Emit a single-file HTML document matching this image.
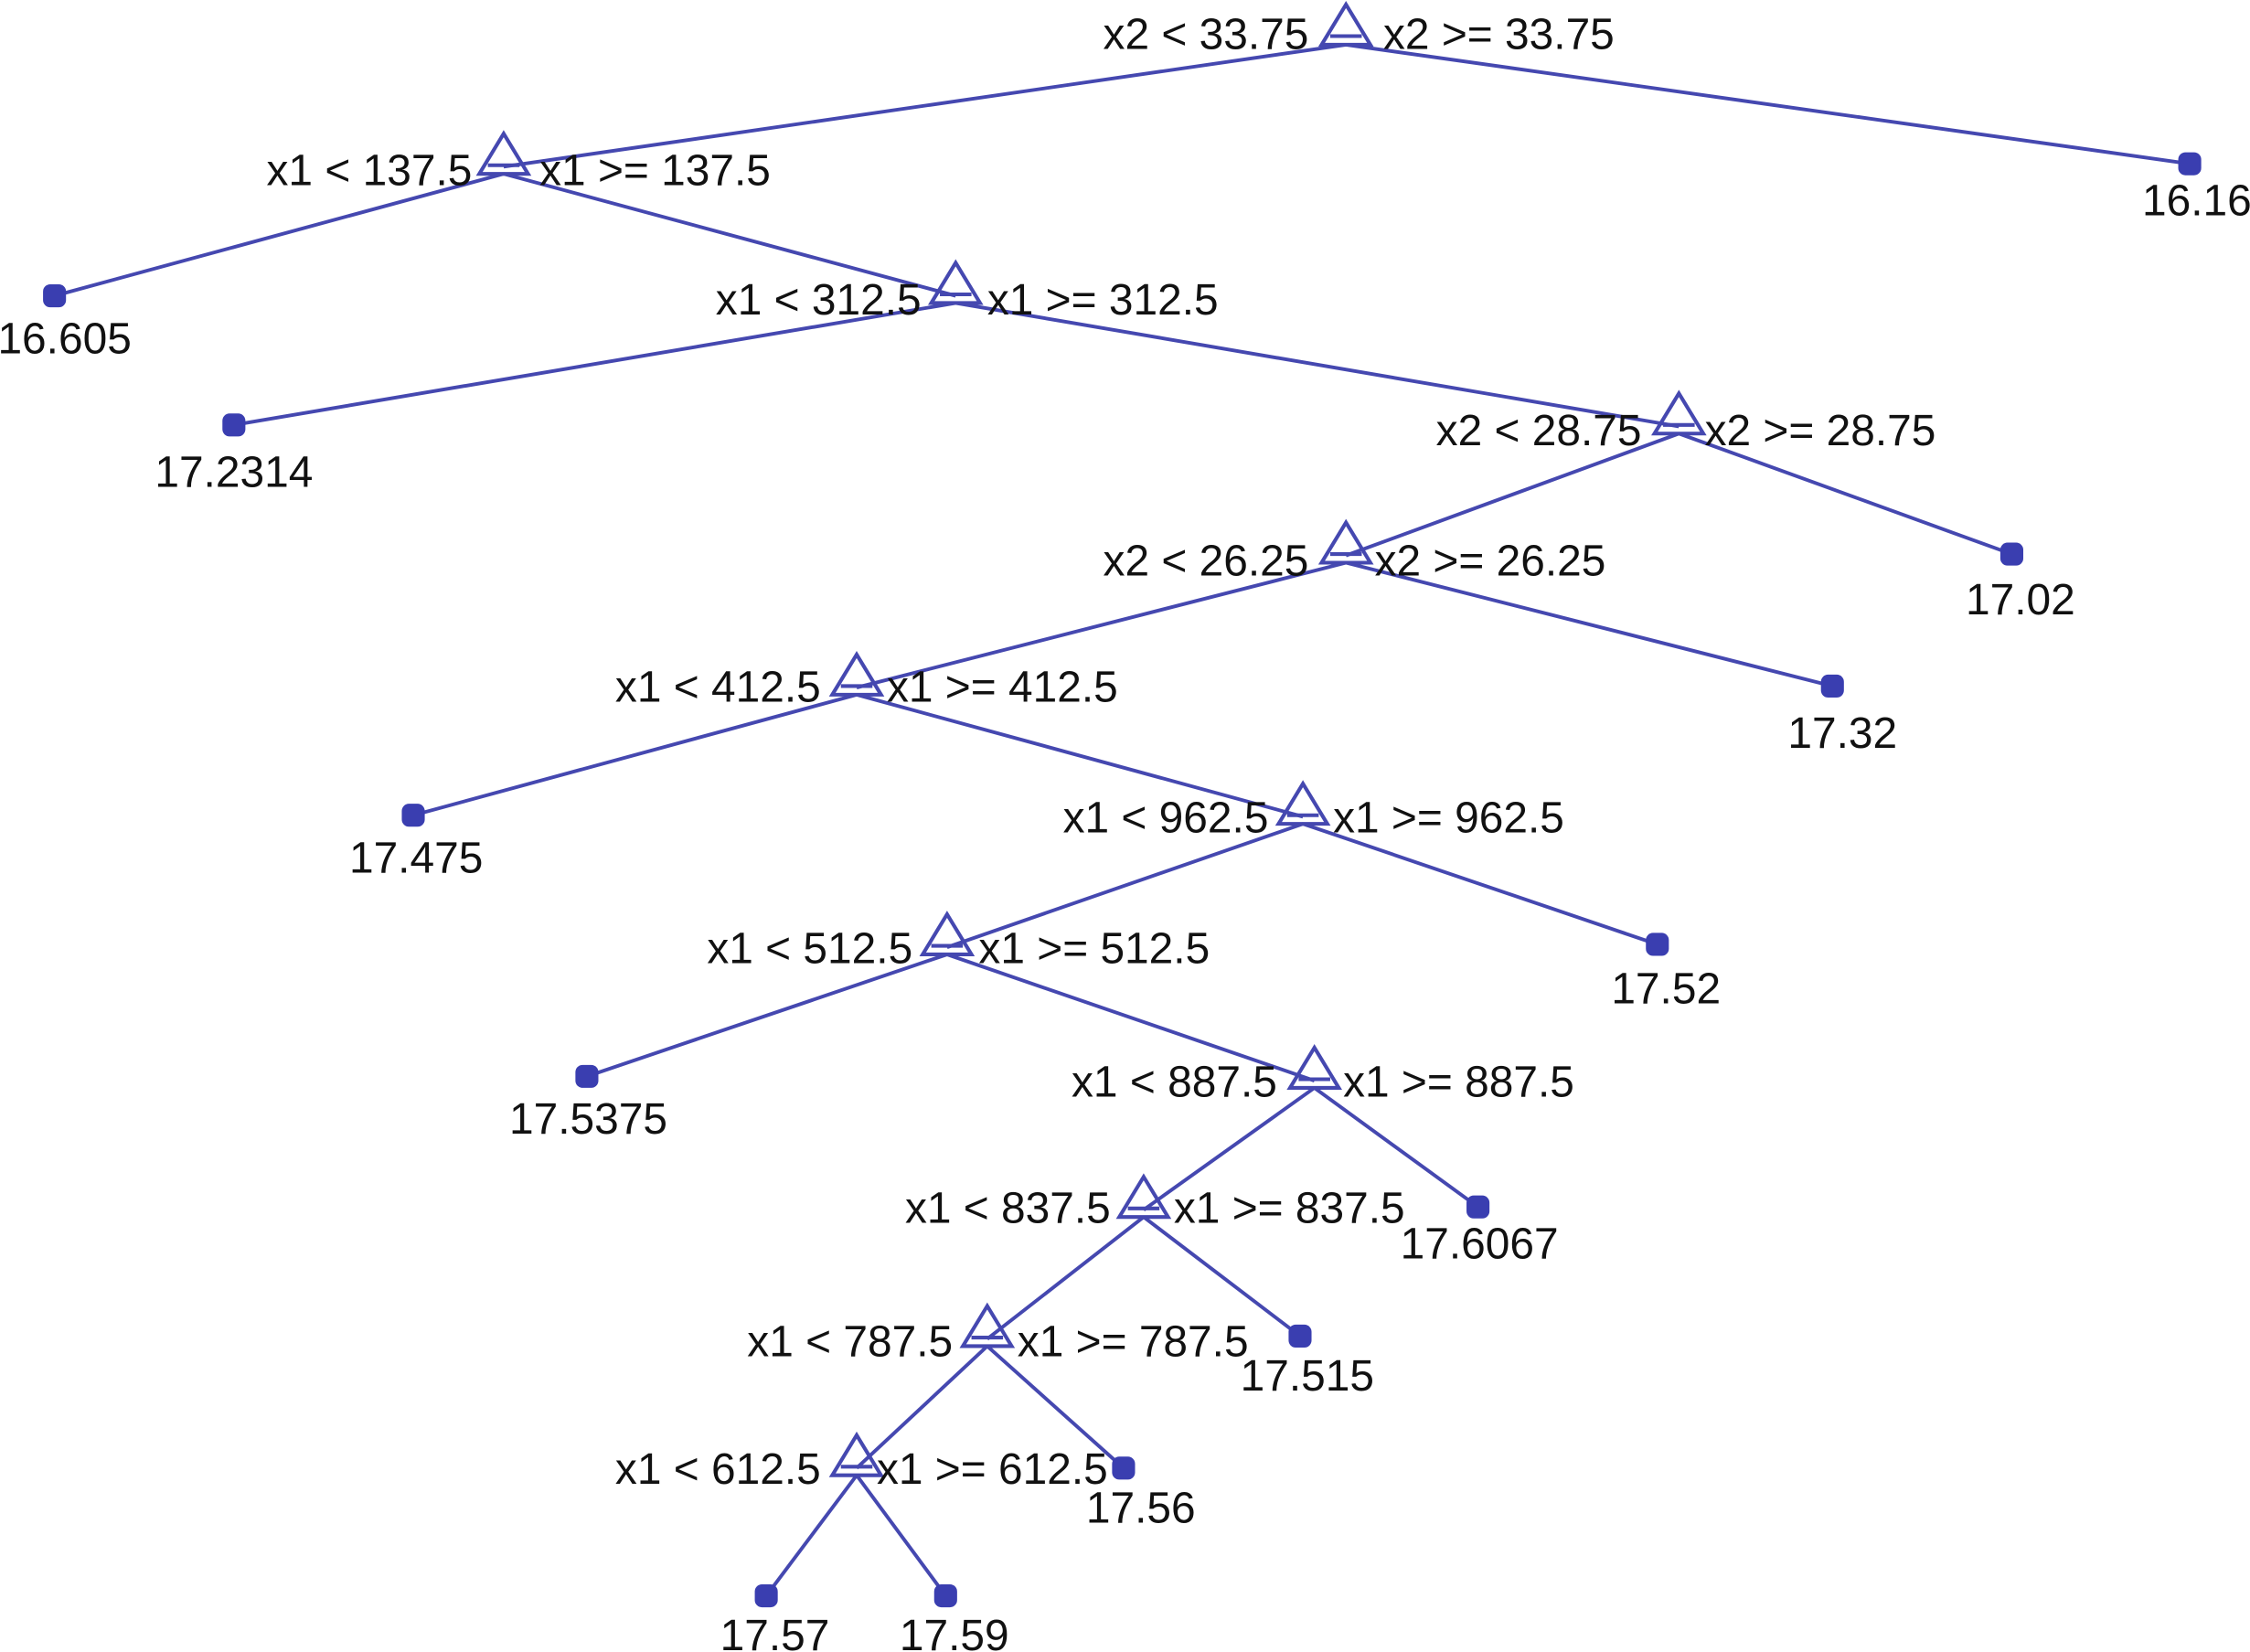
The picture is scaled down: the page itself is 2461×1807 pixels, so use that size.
<!DOCTYPE html>
<html><head><meta charset="utf-8"><style>
html,body{margin:0;padding:0;background:#fff;}
svg{display:block;}
text{font-family:"Liberation Sans",Arial,sans-serif;font-size:30.5px;fill:#111;}
</style></head><body>
<svg width="2461" height="1807" viewBox="0 0 1568 1151" xmlns="http://www.w3.org/2000/svg">
<g id="e" stroke="#4548b0" stroke-width="2.5" fill="none">
<line x1="938" y1="31" x2="351" y2="116"/>
<line x1="938" y1="31" x2="1526" y2="114"/>
<line x1="351" y1="121" x2="38" y2="206"/>
<line x1="351" y1="121" x2="666" y2="206"/>
<line x1="666" y1="211" x2="163" y2="296"/>
<line x1="666" y1="211" x2="1170" y2="297"/>
<line x1="1170" y1="302" x2="938" y2="387"/>
<line x1="1170" y1="302" x2="1402" y2="386"/>
<line x1="938" y1="392" x2="597" y2="479"/>
<line x1="938" y1="392" x2="1277" y2="478"/>
<line x1="597" y1="484" x2="288" y2="568"/>
<line x1="597" y1="484" x2="908" y2="569"/>
<line x1="908" y1="574" x2="660" y2="660"/>
<line x1="908" y1="574" x2="1155" y2="658"/>
<line x1="660" y1="665" x2="409" y2="750"/>
<line x1="660" y1="665" x2="916" y2="753"/>
<line x1="916" y1="758" x2="797" y2="843"/>
<line x1="916" y1="758" x2="1030" y2="841"/>
<line x1="797" y1="848" x2="688" y2="933"/>
<line x1="797" y1="848" x2="906" y2="931"/>
<line x1="688" y1="938" x2="597" y2="1023"/>
<line x1="688" y1="938" x2="783" y2="1023"/>
<line x1="597" y1="1028" x2="534" y2="1112"/>
<line x1="597" y1="1028" x2="659" y2="1112"/>
</g>
<g stroke="#4548b0" stroke-width="2.6" fill="none">
<path d="M938 3 L955 31 L921 31 Z M927 25 H949"/>
<path d="M351 93 L368 121 L334 121 Z M340 115 H362"/>
<path d="M666 183 L683 211 L649 211 Z M655 205 H677"/>
<path d="M1170 274 L1187 302 L1153 302 Z M1159 296 H1181"/>
<path d="M938 364 L955 392 L921 392 Z M927 386 H949"/>
<path d="M597 456 L614 484 L580 484 Z M586 478 H608"/>
<path d="M908 546 L925 574 L891 574 Z M897 568 H919"/>
<path d="M660 637 L677 665 L643 665 Z M649 659 H671"/>
<path d="M916 730 L933 758 L899 758 Z M905 752 H927"/>
<path d="M797 820 L814 848 L780 848 Z M786 842 H808"/>
<path d="M688 910 L705 938 L671 938 Z M677 932 H699"/>
<path d="M597 1000 L614 1028 L580 1028 Z M586 1022 H608"/>
</g>
<g fill="#3a3eb0">
<rect x="1518" y="106" width="16" height="16" rx="5"/>
<rect x="30" y="198" width="16" height="16" rx="5"/>
<rect x="155" y="288" width="16" height="16" rx="5"/>
<rect x="1394" y="378" width="16" height="16" rx="5"/>
<rect x="1269" y="470" width="16" height="16" rx="5"/>
<rect x="280" y="560" width="16" height="16" rx="5"/>
<rect x="1147" y="650" width="16" height="16" rx="5"/>
<rect x="401" y="742" width="16" height="16" rx="5"/>
<rect x="1022" y="833" width="16" height="16" rx="5"/>
<rect x="898" y="923" width="16" height="16" rx="5"/>
<rect x="775" y="1015" width="16" height="16" rx="5"/>
<rect x="526" y="1104" width="16" height="16" rx="5"/>
<rect x="651" y="1104" width="16" height="16" rx="5"/>
</g>
<g text-anchor="end">
<text x="912" y="34">x2 &lt; 33.75</text>
<text x="329" y="129">x1 &lt; 137.5</text>
<text x="642" y="219">x1 &lt; 312.5</text>
<text x="1144" y="310">x2 &lt; 28.75</text>
<text x="912" y="401">x2 &lt; 26.25</text>
<text x="572" y="489">x1 &lt; 412.5</text>
<text x="884" y="580">x1 &lt; 962.5</text>
<text x="636" y="671">x1 &lt; 512.5</text>
<text x="890" y="764">x1 &lt; 887.5</text>
<text x="774" y="852">x1 &lt; 837.5</text>
<text x="664" y="945">x1 &lt; 787.5</text>
<text x="572" y="1034">x1 &lt; 612.5</text>
</g>
<g>
<text x="964" y="34">x2 &gt;= 33.75</text>
<text x="376" y="129">x1 &gt;= 137.5</text>
<text x="688" y="219">x1 &gt;= 312.5</text>
<text x="1188" y="310">x2 &gt;= 28.75</text>
<text x="958" y="401">x2 &gt;= 26.25</text>
<text x="618" y="489">x1 &gt;= 412.5</text>
<text x="929" y="580">x1 &gt;= 962.5</text>
<text x="682" y="671">x1 &gt;= 512.5</text>
<text x="936" y="764">x1 &gt;= 887.5</text>
<text x="818" y="852">x1 &gt;= 837.5</text>
<text x="709" y="945">x1 &gt;= 787.5</text>
<text x="611" y="1034">x1 &gt;= 612.5</text>
</g>
<g text-anchor="middle">
<text x="1531" y="150">16.16</text>
<text x="45" y="246">16.605</text>
<text x="163" y="339">17.2314</text>
<text x="1408" y="428">17.02</text>
<text x="1284" y="521">17.32</text>
<text x="290" y="608">17.475</text>
<text x="1161" y="699">17.52</text>
<text x="410" y="790">17.5375</text>
<text x="1031" y="877">17.6067</text>
<text x="911" y="969">17.515</text>
<text x="795" y="1061">17.56</text>
<text x="540" y="1150">17.57</text>
<text x="665" y="1150">17.59</text>
</g>
</svg>
</body></html>
